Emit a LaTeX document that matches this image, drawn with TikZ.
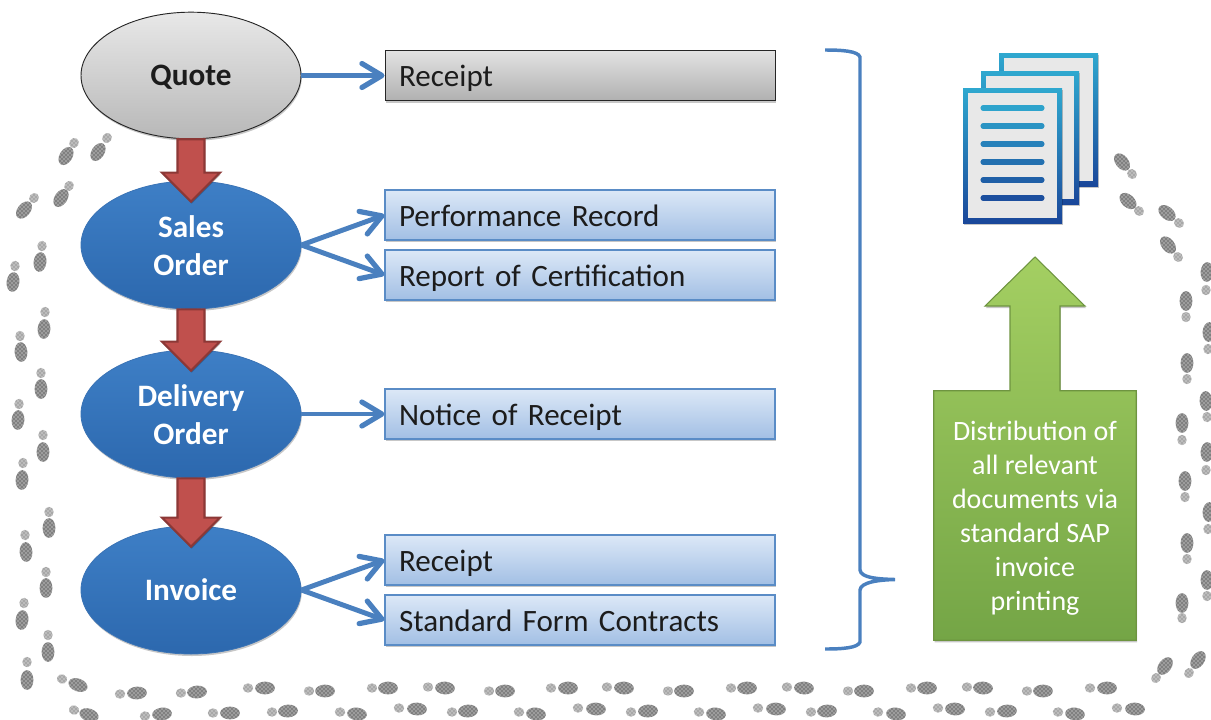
\documentclass[tikz,border=0pt]{standalone}
\usepackage{fontspec}
\setmainfont{Carlito}
\usetikzlibrary{shapes.geometric,shadows,arrows.meta,calc,patterns}
\definecolor{txt}{HTML}{1C1C1C}
\definecolor{linkblue}{HTML}{4A80BF}
\definecolor{boxline}{HTML}{5A8CC6}
\definecolor{docA}{HTML}{2FA8CF}
\definecolor{docB}{HTML}{1A479A}
\tikzset{
  softshadow/.style={drop shadow={shadow xshift=.6pt,shadow yshift=-1.5pt,fill=black,opacity=.22}},
  procgrey/.style={ellipse,draw=black!85,line width=.7pt,top color=black!9,bottom color=black!28,softshadow,
     minimum width=165pt,minimum height=95pt,inner sep=0pt,align=center,text=txt,font=\fontsize{23.4}{28.5}\selectfont\bfseries},
  procblue/.style={ellipse,draw=blueedge,line width=.6pt,top color=boxblueT,bottom color=boxblueB,softshadow,
     minimum width=165pt,minimum height=96pt,inner sep=0pt,align=center,text=white,font=\fontsize{23.4}{28.5}\selectfont\bfseries},
  boxbase/.style={rectangle,minimum width=292.5pt,minimum height=37.5pt,inner sep=0pt,text width=271.5pt,align=left,text=txt,
     text height=16.8pt,text depth=0pt,font=\fontsize{23.3}{26}\selectfont,softshadow},
  greybox/.style={boxbase,draw=black!85,line width=.7pt,top color=black!11,bottom color=black!31},
  bluebox/.style={boxbase,draw=boxline,line width=.8pt,top color=lightT,bottom color=lightB},
  link/.style={draw=linkblue,line width=3.7pt,-{Straight Barb[length=15pt,width=18pt,line width=3.9pt,round]}},
  redarrow/.style={draw=redline,fill=redfill,line width=1.6pt,line join=miter,softshadow},
  footbig/.style={fill=black!50,postaction={pattern=crosshatch dots,pattern color=white}},
  footsmall/.style={fill=black!34,postaction={pattern=crosshatch dots,pattern color=white}},
  brace/.style={draw=linkblue,line width=2.6pt},
  docpage/.style={top color=docA,bottom color=docB,softshadow},
  docline/.style={line width=3.8pt,line cap=round},
}
\definecolor{blueedge}{HTML}{3A73B5}
\definecolor{boxblueT}{HTML}{3E7FC6}
\definecolor{boxblueB}{HTML}{2C68AE}
\definecolor{lightT}{HTML}{DCE8F7}
\definecolor{lightB}{HTML}{A2BFE4}
\definecolor{redfill}{HTML}{C0504D}
\definecolor{redline}{HTML}{8C3836}
\definecolor{greenT}{HTML}{A4CF62}
\definecolor{greenB}{HTML}{74A546}
\definecolor{greenL}{HTML}{6E9440}
\newcommand{\flowarrow}[2]{%
  \path[redarrow] ($(#1.south)+(-13.5,0)$) -- ($(#1.south)+(13.5,0)$)
    -- ($(#2.north)+(13.5,-8)$) -- ($(#2.north)+(29,-8)$) -- ($(#2.north)+(0,21)$)
    -- ($(#2.north)+(-29,-8)$) -- ($(#2.north)+(-13.5,-8)$) -- cycle;}
\newcommand{\pagedoc}[4]{%
  \path[docpage] (#1,#2) rectangle (#3,#4);
  \fill[black!9] (#1+5,#2+5) rectangle (#3-5,#4-5);}
\begin{document}
\begin{tikzpicture}[x=.75pt,y=-.75pt]
\useasboundingbox (0,0) rectangle (1211,719);
% footprints
\foreach \bx/\by/\sx/\sy in {
66/156/74/143, 98/152/107/138, 61/198/69/186, 24/210/34/198, 40/262/42/246, 13/282/15/266,
44/329/45/312, 21/352/20/336, 41/389/41/373, 18/420/19/404, 43/452/43/435, 22/480/23/463,
49/528/49/512, 26/552/25/535, 46/588/46/572, 22/620/24/603, 48/652/48/635, 27/680/27/662,
78/685/62/679, 89/715/74/710, 137/693/120/694, 162/714/145/716, 197/692/181/693, 230/713/213/713,
265/688/248/688, 288/711/272/712, 325/691/309/691, 388/688/372/688, 445/688/428/687, 505/691/489/691,
568/688/551/688, 357/714/340/712, 417/709/399/708, 468/711/452/712, 536/714/519/712, 596/709/578/708,
624/688/607/687, 684/691/668/691, 747/688/731/688, 804/688/787/687, 864/691/848/691,
648/711/631/712, 716/714/699/712, 776/709/758/708, 827/711/811/712, 896/714/878/712,
927/688/911/688, 983/688/967/687, 1043/691/1027/691, 1107/688/1090/688,
955/709/938/708, 1007/711/990/712, 1075/714/1058/712, 1135/709/1117/708,
1198/660/1189/673, 1165/666/1156/678, 1182/603/1182/618, 1207/580/1207/596,
1186/301/1186/317, 1209/332/1208/349, 1187/363/1187/379, 1206/401/1207/417, 1182/423/1182/440,
1207/452/1206/470, 1185/481/1185/497, 1209/512/1208/529, 1187/543/1187/559,
1122/162/1132/174, 1128/201/1139/211, 1167/213/1179/223, 1168/245/1178/257, 1207/272/1206/290}
{
  \pgfmathsetmacro{\ang}{atan2(\sy-\by,\bx-\sx)}
  \path[footbig,rotate around={\ang:(\bx,\by)}] (\bx,\by) ellipse [x radius=7.4pt,y radius=4.8pt];
  \path[footsmall,rotate around={\ang:(\sx,\sy)}] (\sx,\sy) ellipse [x radius=3.9pt,y radius=3.5pt];
}
% process nodes
\node[procgrey,text height=15pt,text depth=0pt] (quote) at (191,75.5) {Quote};
\node[procblue] (sales) at (191,245) {\rule{0pt}{18pt}Sales\\Order};
\node[procblue] (delivery) at (191,414) {\rule{0pt}{18pt}Delivery\\Order};
\node[procblue,text height=15pt,text depth=0pt] (invoice) at (191,590) {Invoice};
% document boxes
\node[greybox] (r1) at (580,75.5) {Receipt};
\node[bluebox] (perf) at (580,215) {Performance Record};
\node[bluebox] (cert) at (580,275) {Report of Certification};
\node[bluebox] (notice) at (580,414) {Notice of Receipt};
\node[bluebox] (r2) at (580,560) {Receipt};
\node[bluebox] (std) at (580,620) {Standard Form Contracts};
% links
\draw[link] (quote.east) -- (r1.west);
\draw[link] (sales.east) -- (perf.west);
\draw[link] (sales.east) -- (cert.west);
\draw[link] (delivery.east) -- (notice.west);
\draw[link] (invoice.east) -- (r2.west);
\draw[link] (invoice.east) -- (std.west);
% red flow arrows
\flowarrow{quote}{sales}
\flowarrow{sales}{delivery}
\flowarrow{delivery}{invoice}
% brace
\path[brace] (825,50) .. controls (842,50) and (858,51) .. (860,57) -- (860,570)
  .. controls (861,578) and (878,579) .. (895,579.5)
  .. controls (878,580) and (861,582) .. (860,590) -- (860,642)
  .. controls (858,648) and (842,649) .. (825,649);
% documents icon
\pagedoc{999}{53}{1098}{186}
\pagedoc{981}{71}{1079}{204}
\pagedoc{963}{88}{1062}{223}
\foreach \yy/\mixv in {108/95,126/78,144/60,162/42,180/25,198/8}
  \draw[docline,draw=docA!\mixv!docB] (983,\yy) -- (1042,\yy);
% green arrow
\node[minimum width=151.5pt,minimum height=186.75pt,inner sep=0pt] (distbox) at (1035,515.5) {};
\coordinate (greentip) at (1035,257);
\path[draw=greenL,line width=.8pt,top color=greenT,bottom color=greenB,softshadow]
  (distbox.south west) -- (distbox.south east) -- (distbox.north east)
  -- ($(distbox.north)+(25,0)$) -- ($(greentip)+(25,49)$) -- ($(greentip)+(50,49)$)
  -- (greentip) -- ($(greentip)+(-50,49)$) -- ($(greentip)+(-25,49)$)
  -- ($(distbox.north)+(-25,0)$) -- (distbox.north west) -- cycle;
\node[align=center,text=white,font=\fontsize{21}{25.5}\selectfont,inner sep=0pt] (disttext) at (1035,518)
  {Distribution of\\all relevant\\documents via\\standard SAP\\invoice\\printing};
\end{tikzpicture}
\end{document}
